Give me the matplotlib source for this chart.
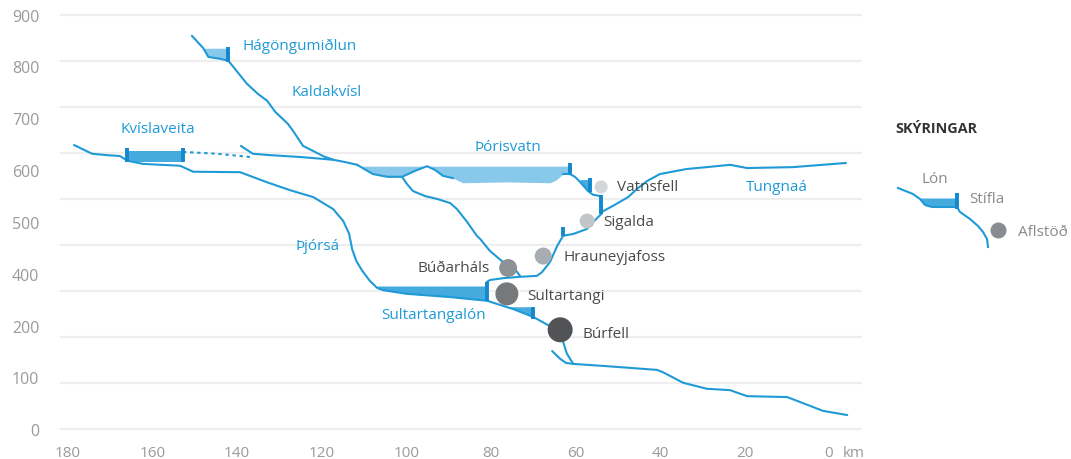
"""
Elevation profile of the Þjórsá / Tungnaá hydro system
"""

import numpy as np
import matplotlib
matplotlib.use('Agg')
import matplotlib.pyplot as plt

plt.rcParams['font.family'] = ['Open Sans', 'DejaVu Sans']

BLUE = '#1f9ad6'
DAM_BLUE = '#1488cc'
LAKE = '#45abdf'
LAKE_LIGHT = '#88c8ea'
GRID = '#eeeeee'
TICK_GREY = '#9a9a9a'
TEXT_DARK = '#4a4a4a'

# y-axis labels as printed (there is no "300" in the original)
Y_LABELS = ['0', '100', '200', '400', '500', '600', '700', '800', '900']
X_TICKS = [180, 160, 140, 120, 100, 80, 60, 40, 20, 0]

# rivers: distance from the sea (km) and elevation (m)
thjorsa_km = [178.6, 174.3, 170.8, 167.7, 166.0, 162.3, 153.5, 150.4, 139.3, 132.9,
              127.5, 122.0, 117.3, 114.9, 113.5, 112.8, 111.8, 110.4, 108.6, 106.9,
              105.5, 99.8, 89.6, 80.9, 77.1, 74.7, 70.0, 66.0, 64.3, 63.1,
              62.0, 60.5, 52.5, 40.7, 39.3, 34.5, 28.9, 23.4, 19.4, 9.9, 1.4, -4.3]
thjorsa_m = [617, 598, 595, 593, 583, 576, 572, 559, 558, 536,
             519, 504, 478, 452, 424, 391, 365, 344, 322, 307,
             302, 294, 287, 279, 268, 261, 244, 224, 216, 196,
             164, 142, 137, 129, 124, 101, 88, 85, 72, 70, 40, 31]

kaldakvisl_km = [150.7, 148.0, 146.8, 144.0, 142.1, 140.5, 137.7, 135.1, 132.9, 131.0,
                 128.0, 126.8, 124.4, 122.0, 119.7, 117.3]
kaldakvisl_m = [854, 827, 808, 804, 800, 782, 750, 728, 713, 689,
                663, 648, 615, 604, 593, 585]

kvisl_channel_km = [139.1, 136.3, 132.2, 125.1, 117.3, 114.5, 111.6]
kvisl_channel_m = [615, 598, 595, 591, 585, 580, 574]
kvisl_dotted_km = [152.8, 144.7, 136.9]
kvisl_dotted_m = [602, 598, 591]

thorisvatn_bed_km = [111.6, 107.9, 104.5, 101.0, 97.9, 95.1, 93.2, 91.3, 88.9,
                     86.6, 76.2, 66.0, 64.6, 62.9, 61.3]
thorisvatn_bed_m = [574, 554, 548, 548, 561, 571, 563, 550, 545,
                    535, 537, 535, 541, 554, 554]

vatnsfell_km = [61.3, 60.1, 58.9, 57.0, 55.8, 53.9]
vatnsfell_m = [554, 548, 537, 517, 509, 506]

tungnaa_km = [-4.0, 8.5, 19.4, 23.4, 28.9, 33.6, 40.0, 43.0, 45.4, 47.5,
              51.1, 53.7, 53.9, 55.8, 57.2, 60.5, 62.9, 64.3, 66.0, 67.9,
              69.1, 73.1, 77.1, 80.2, 80.9]
tungnaa_m = [578, 569, 567, 574, 569, 565, 554, 539, 522, 504,
             485, 472, 467, 450, 435, 424, 420, 398, 363, 341,
             333, 331, 328, 324, 320]

budarhals_km = [101.0, 99.8, 98.4, 95.5, 92.7, 89.6, 88.0, 85.6, 83.3, 82.5,
                80.2, 77.1, 75.4, 73.8, 73.1]
budarhals_m = [548, 532, 517, 506, 500, 491, 478, 450, 420, 413,
               387, 363, 352, 342, 333]

burfell_branch_km = [65.5, 63.6, 62.2, 60.5]
burfell_branch_m = [170, 153, 144, 142]

# reservoirs: river, from km, to km, water level (m), light colour?
lakes = [
    ('kaldakvisl', 148.0, 142.1, 827, True),
    ('vatnsfell', 58.9, 56.5, 542, False),
    ('tungnaa', 47.5, 53.9, 504, False),
    ('tungnaa', 59.4, 62.9, 428, False),
    ('thjorsa', 106.9, 80.9, 311, False),
    ('thjorsa', 77.1, 70.0, 266, False),
]
kvislaveita_km = [166.0, 152.8]
kvislaveita_bottom, kvislaveita_top = 581, 603
thorisvatn_level = 571

# dams: km, bottom, top
dam_km = [142.1, 166.0, 152.8, 61.3, 56.5, 53.9, 62.9, 80.9, 70.0]
dam_bottom = [797, 580, 580, 554, 515, 467, 420, 279, 239]
dam_top = [829, 611, 611, 578, 545, 509, 439, 320, 266]

# power stations
station_names = ['Vatnsfell', 'Sigalda', 'Hrauneyjafoss', 'Búðarháls', 'Sultartangi', 'Búrfell']
station_km = [53.9, 57.2, 67.6, 75.9, 76.2, 63.6]
station_m = [526, 452, 376, 350, 294, 216]
station_size = [88, 117, 150, 168, 274, 324]
station_color = ['#d4d7da', '#c2c5c8', '#a9adb1', '#8e9296', '#76797c', '#515356']
station_label_km = [50.1, 53.5, 62.9, 80.2, 71.4, 58.2]
station_label_m = [528, 452, 374, 352, 291, 207]
station_label_ha = ['left', 'left', 'left', 'right', 'left', 'left']

# blue names of rivers and lakes
names = ['Hágöngumiðlun', 'Kaldakvísl', 'Kvíslaveita', 'Þórisvatn', 'Tungnaá', 'Þjórsá', 'Sultartangalón']
name_km = [138.8, 127.1, 167.7, 75.9, 19.6, 115.7, 106.0]
name_m = [834, 734, 652, 613, 528, 398, 250]
name_ha = ['left', 'left', 'left', 'center', 'left', 'right', 'left']

rivers = {
    'thjorsa': (thjorsa_km, thjorsa_m),
    'kaldakvisl': (kaldakvisl_km, kaldakvisl_m),
    'vatnsfell': (vatnsfell_km, vatnsfell_m),
    'tungnaa': (tungnaa_km, tungnaa_m),
}

fig = plt.figure(figsize=(10.71, 4.6), dpi=100)
ax = fig.add_axes([60 / 1071, 20 / 460, 802 / 1071, 435 / 460])
ax.set_xlim(181.9, -7.8)
ax.set_ylim(-21, 923)

for v in range(0, 1000, 100):
    ax.axhline(v, color=GRID, lw=1.6, zorder=0)

# lakes
for river, k0, k1, level, light in lakes:
    rk, rm = np.array(rivers[river][0]), np.array(rivers[river][1])
    lo, hi = min(k0, k1), max(k0, k1)
    inside = (rk > lo) & (rk < hi)
    xs = np.sort(np.concatenate([[lo], rk[inside], [hi]]))
    ys = np.interp(xs, rk[::-1], rm[::-1])
    ax.fill_between(xs, np.minimum(ys, level), level,
                    color=LAKE_LIGHT if light else LAKE, lw=0, zorder=1)

ax.fill_between(kvislaveita_km, kvislaveita_bottom, kvislaveita_top, color=LAKE, lw=0, zorder=1)
ax.fill_between(thorisvatn_bed_km, thorisvatn_bed_m, thorisvatn_level, color=LAKE_LIGHT, lw=0, zorder=1)

# rivers
line_kw = dict(color=BLUE, lw=1.5, zorder=2, solid_capstyle='round', solid_joinstyle='round')
ax.plot(thjorsa_km, thjorsa_m, **line_kw)
ax.plot(kaldakvisl_km, kaldakvisl_m, **line_kw)
ax.plot(kvisl_channel_km, kvisl_channel_m, **line_kw)
ax.plot(thorisvatn_bed_km[:9], thorisvatn_bed_m[:9], **line_kw)
ax.plot(thorisvatn_bed_km[-2:], thorisvatn_bed_m[-2:], **line_kw)
ax.plot(vatnsfell_km, vatnsfell_m, **line_kw)
ax.plot(tungnaa_km, tungnaa_m, **line_kw)
ax.plot(budarhals_km, budarhals_m, **line_kw)
ax.plot(burfell_branch_km, burfell_branch_m, **line_kw)
ax.plot(kvisl_dotted_km, kvisl_dotted_m, color=BLUE, lw=1.5, ls=(0, (1.6, 1.8)), zorder=2)

# dams
ax.vlines(dam_km, dam_bottom, dam_top, color=DAM_BLUE, lw=2.8, zorder=3)

# stations
ax.scatter(station_km, station_m, s=station_size, c=station_color, lw=0, zorder=4)
for name, k, m, ha in zip(station_names, station_label_km, station_label_m, station_label_ha):
    ax.text(k, m, name, ha=ha, va='center', fontsize=11, color=TEXT_DARK, zorder=5)

for name, k, m, ha in zip(names, name_km, name_m, name_ha):
    ax.text(k, m, name, ha=ha, va='center', fontsize=11, color=BLUE, zorder=5)

ax.set_yticks(np.linspace(0, 900, 9))
ax.set_yticklabels(Y_LABELS)
ax.set_xticks(X_TICKS)
ax.set_xticklabels([str(t) for t in X_TICKS])
ax.tick_params(axis='y', length=0, pad=15, labelcolor=TICK_GREY, labelsize=11.5)
ax.tick_params(axis='x', length=0, pad=4, labelcolor=TICK_GREY, labelsize=11)
for s in ax.spines.values():
    s.set_visible(False)
ax.text(-3.3, -0.03, 'km', transform=ax.get_xaxis_transform(), ha='left', va='center',
        fontsize=11, color=TICK_GREY)

# legend, drawn in pixel units of the right margin
lax = fig.add_axes([880 / 1071, 0, 191 / 1071, 1])
lax.set_xlim(880, 1071)
lax.set_ylim(460, 0)
lax.axis('off')
leg_river_x = [898, 913, 920, 925, 932, 957, 960, 970, 978, 983, 987, 988]
leg_river_y = [189, 195, 200, 206, 208, 208, 213, 220, 227, 233, 240, 248]
lax.fill_between([917, 920, 925, 932, 957], [199] * 5, [199, 200, 206, 208, 208], color=LAKE, lw=0)
lax.plot(leg_river_x, leg_river_y, color=BLUE, lw=1.5)
lax.vlines([957], 194, 210, color=DAM_BLUE, lw=2.8)
lax.scatter([998], [231], s=133, c='#898c90', lw=0)
lax.text(895, 129, 'SKÝRINGAR', fontsize=10.4, fontweight='bold', color='#333333', va='center')
lax.text(935, 180, 'Lón', fontsize=11, color='#8a8a8a', ha='center', va='center')
lax.text(969, 200, 'Stífla', fontsize=11, color='#8a8a8a', va='center')
lax.text(1018, 233, 'Aflstöð', fontsize=11, color='#8a8a8a', va='center')

plt.savefig('out.png', dpi=100)
